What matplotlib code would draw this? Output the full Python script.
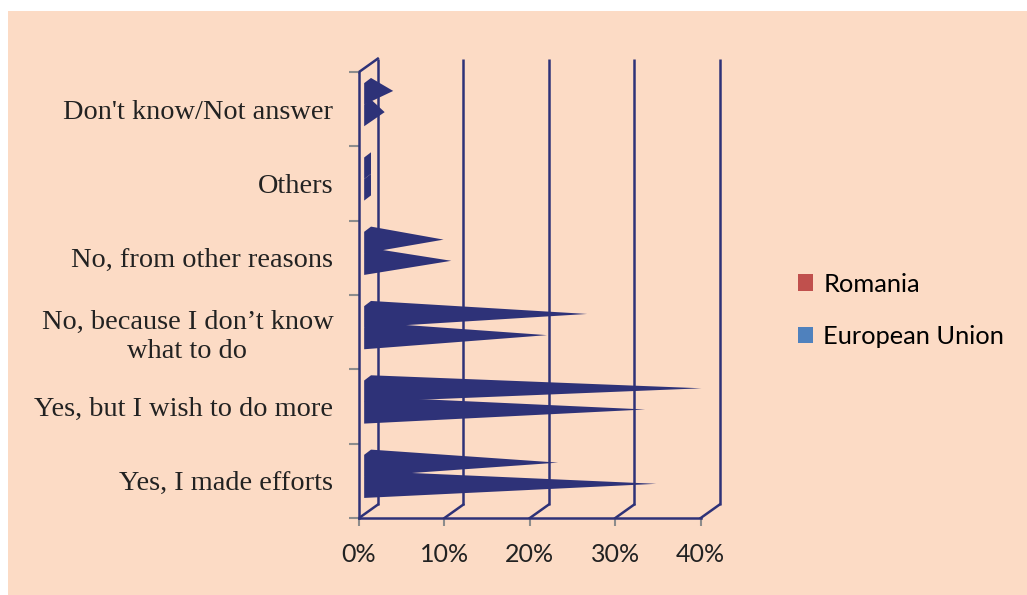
import matplotlib.pyplot as plt
from matplotlib.patches import Polygon, Rectangle, Patch
import numpy as np

# categories, bottom to top
categories = ["Yes, I made efforts", "Yes, but I wish to do more",
              "No, because I don\u2019t know\nwhat to do", "No, from other reasons",
              "Others", "Don't know/Not answer"]
romania = [33.7, 32.4, 20.9, 9.7, 0.2, 1.9]
european_union = [22.2, 39.0, 25.6, 8.8, 0.2, 2.9]
series_names = ['Romania', 'European Union']
xticks = [0, 10, 20, 30, 40]
xticklabels = ['0%', '10%', '20%', '30%', '40%']

PEACH = '#FCDBC5'
NAVY = '#2E3278'
GREY = '#8C8C8C'

# pseudo-3D depth offsets (data units)
DX, DY = 2.2, 0.18

fig = plt.figure(figsize=(10.27, 5.95), dpi=100)
fig.patch.set_facecolor('white')
fig.add_artist(Rectangle((8 / 1027, 0), 1 - 8 / 1027, (595 - 11) / 595,
                         transform=fig.transFigure, facecolor=PEACH,
                         edgecolor='none', zorder=-10))

ax = fig.add_axes([0.3496, 0.1294, 0.3327, 0.7496])
ax.set_facecolor('none')
ax.set_xlim(0, 40)
ax.set_ylim(0, len(categories))

# back wall gridlines and floor diagonals
for v in xticks:
    ax.plot([v + DX, v + DX], [DY, len(categories) + DY], color=NAVY, lw=1.8,
            clip_on=False, zorder=1, solid_capstyle='butt')
    ax.plot([v, v + DX], [0, DY], color=NAVY, lw=1.8, clip_on=False, zorder=1)
ax.plot([0, DX], [len(categories), len(categories) + DY], color=NAVY, lw=1.8,
        clip_on=False, zorder=1)


def hull(points):
    # monotone chain convex hull
    pts = sorted(set(points))
    lower, upper = [], []
    for p in pts:
        while len(lower) >= 2 and np.cross(np.subtract(lower[-1], lower[-2]),
                                           np.subtract(p, lower[-2])) <= 0:
            lower.pop()
        lower.append(p)
    for p in reversed(pts):
        while len(upper) >= 2 and np.cross(np.subtract(upper[-1], upper[-2]),
                                           np.subtract(p, upper[-2])) <= 0:
            upper.pop()
        upper.append(p)
    return lower[:-1] + upper[:-1]


def cone(i, value, yb, yt, ytip):
    x0, s, sy = 0.6, 0.8, 0.07
    pts = [(x0, i + yb), (x0, i + yt), (x0 + s, i + yt + sy), (x0 + s, i + yb + sy),
           (value + DX / 2, i + ytip)]
    ax.add_patch(Polygon(hull(pts), closed=True, facecolor=NAVY, edgecolor='none',
                         clip_on=False, zorder=3))


for i in range(len(categories)):
    cone(i, romania[i], 0.27, 0.56, 0.46)
    cone(i, european_union[i], 0.56, 0.85, 0.745)

# axes / spines
for s in ['top', 'right']:
    ax.spines[s].set_visible(False)
for s in ['left', 'bottom']:
    ax.spines[s].set_color(NAVY)
    ax.spines[s].set_linewidth(1.8)

ax.set_xticks(xticks)
ax.set_xticklabels(xticklabels, fontfamily='Lato', fontsize=18, color='#222222')
ax.tick_params(axis='x', length=6, width=1.5, color=GREY, pad=12)

ax.set_yticks(np.arange(len(categories) + 1))
ax.set_yticklabels([])
ax.tick_params(axis='y', which='major', length=7, width=1.5, color=GREY)
ax.set_yticks(np.arange(len(categories)) + 0.5, minor=True)
ax.set_yticklabels(categories, minor=True, fontfamily='Liberation Serif',
                   fontsize=20.4, color='#222222', ha='right', multialignment='center')
ax.tick_params(axis='y', which='minor', length=0, pad=18.5)

handles = [Patch(facecolor='#C0504D'), Patch(facecolor='#4F81BD')]
fig.legend(handles, series_names, loc='upper left', bbox_to_anchor=(0.777, 0.542),
           frameon=False, prop={'family': 'Lato', 'size': 18.3},
           handlelength=0.6, handleheight=0.6, handletextpad=0.4,
           labelspacing=1.15, borderpad=0, borderaxespad=0)

fig.savefig('out.png', dpi=100, facecolor=fig.get_facecolor())
